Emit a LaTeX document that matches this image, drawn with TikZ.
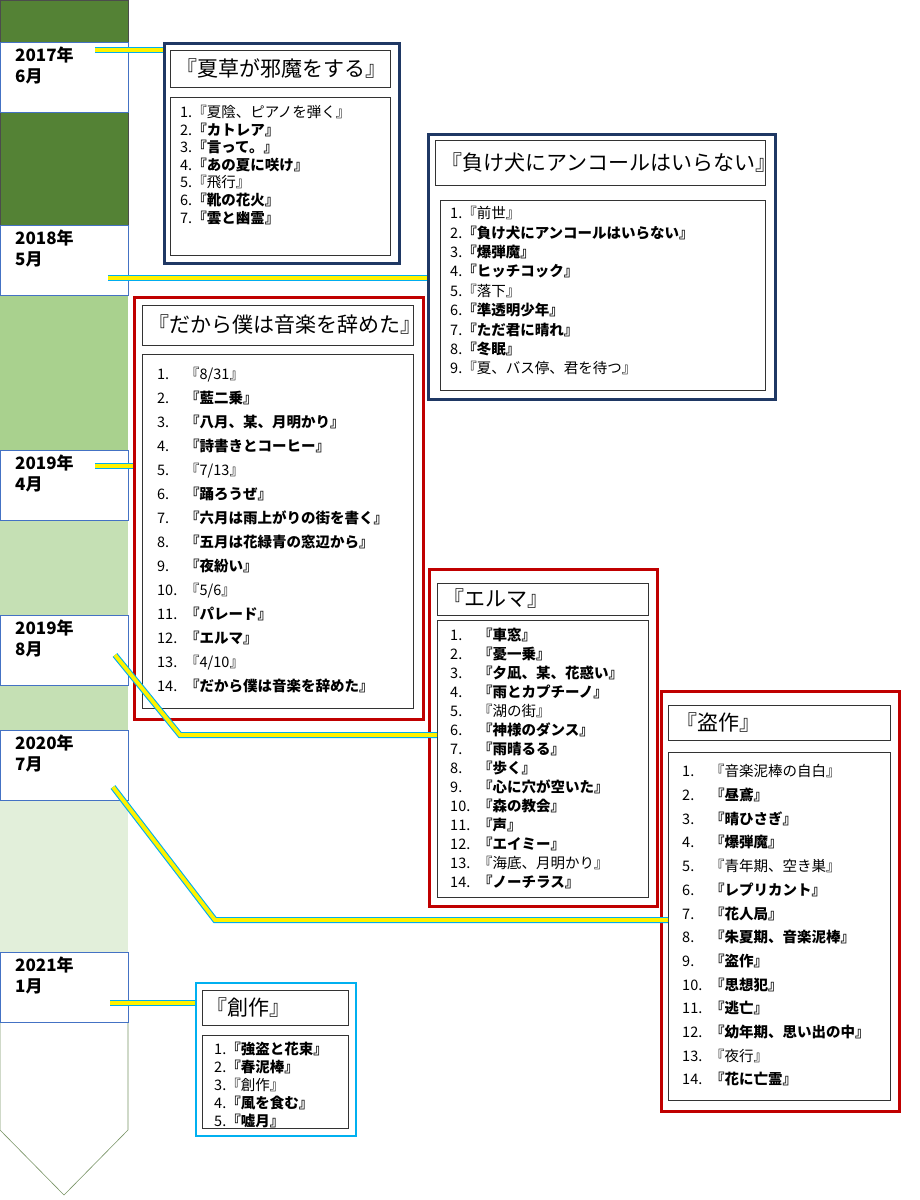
\documentclass[tikz,border=0pt]{standalone}
\usepackage{fontspec}
\newfontfamily\jp{Noto Sans CJK JP}
\usetikzlibrary{positioning}
\definecolor{dkgreen}{HTML}{548235}
\definecolor{mdgreen}{HTML}{A9D18E}
\definecolor{ltgreen}{HTML}{C5E0B4}
\definecolor{pgreen}{HTML}{E2EFDA}
\definecolor{navy}{HTML}{1F3864}
\definecolor{dkred}{HTML}{C00000}
\definecolor{selblue}{HTML}{4472C4}
\definecolor{skyblue}{HTML}{00B0F0}

\tikzset{
  date/.style = {draw=selblue, fill=white, line width=0.8pt, anchor=north west,
    minimum width=128pt, minimum height=70pt, inner sep=0pt},
  datetxt/.style = {anchor=north west, font=\jp\bfseries\fontsize{17}{21}\selectfont,
    align=left, inner sep=0pt},
  frame/.style = {draw=#1, line width=3pt, fill=white, anchor=north west, inner sep=0pt},
  inbox/.style = {draw=black!80, line width=0.8pt, anchor=north west, inner sep=0pt},
  title/.style = {anchor=west, font=\jp\fontsize{21}{23}\selectfont, inner sep=0pt},
  tracks/.style = {anchor=north west, inner sep=0pt, align=left,
    font=\jp\fontsize{14.5}{#1}\selectfont},
  link/.style = {draw=cyan, line width=6pt, postaction={draw=yellow, line width=3.8pt}},
  sep/.style = {draw=selblue, line width=0.6pt, double, double distance=1.2pt}
}
\newcommand{\trk}[2]{#1 & #2\\}

\begin{document}
\begin{tikzpicture}[x=1pt, y=-1pt]
\useasboundingbox (0,0) rectangle (920,1200);

% timeline bar
\fill[dkgreen] (0,0) rectangle (128,225);
\fill[mdgreen] (0,225) rectangle (128,450);
\fill[ltgreen] (0,450) rectangle (128,730);
\fill[pgreen] (0,730) rectangle (128,1022);
\draw[draw=black!70, line width=0.6pt] (0,0) rectangle (128,225);
\draw[draw=mdgreen!70!black, line width=0.6pt] (0,1022) -- (0,1130) -- (64,1195) -- (128,1130) -- (128,1022);

\node[date] (d17) at (0,42) {};
\node[date] (d18) at (0,225) {};
\node[date] (d19a) at (0,450) {};
\node[date] (d19b) at (0,615) {};
\node[date] (d20) at (0,730) {};
\node[date] (d21) at (0,952) {};
\node[datetxt] at (15,47) {2017年\\6月};
\node[datetxt] at (15,230) {2018年\\5月};
\node[datetxt] at (15,455) {2019年\\4月};
\node[datetxt] at (15,620) {2019年\\8月};
\node[datetxt] at (15,735) {2020年\\7月};
\node[datetxt] at (15,957) {2021年\\1月};

% album 1
\node[frame=navy, minimum width=235pt, minimum height=220pt] (a1) at (163,42) {};
\node[inbox, minimum width=220pt, minimum height=37pt] (a1t) at (170,50) {};
\node[title] at (176,68.5) {『夏草が邪魔をする』};
\draw[sep] (168,91) -- (393,91);
\node[inbox, minimum width=220pt, minimum height=158pt] (a1l) at (170,97) {};
\node[tracks=17.5] at (180,105) {\begin{tabular}{@{}l@{}l@{}}
\trk{1.}{『夏陰、ピアノを弾く』}
\trk{2.}{\textbf{『カトレア』}}
\trk{3.}{\textbf{『言って。』}}
\trk{4.}{\textbf{『あの夏に咲け』}}
\trk{5.}{『飛行』}
\trk{6.}{\textbf{『靴の花火』}}
\trk{7.}{\textbf{『雲と幽霊』}}
\end{tabular}};

% album 2
\node[frame=navy, minimum width=347pt, minimum height=265pt] (a2) at (427,133) {};
\node[inbox, minimum width=330pt, minimum height=45pt] (a2t) at (435,140) {};
\node[title] at (441,162.5) {『負け犬にアンコールはいらない』};
\draw[sep] (433,191) -- (768,191);
\node[inbox, minimum width=325pt, minimum height=190pt] (a2l) at (440,200) {};
\node[tracks=19.4] at (450,205) {\begin{tabular}{@{}l@{}l@{}}
\trk{1.}{『前世』}
\trk{2.}{\textbf{『負け犬にアンコールはいらない』}}
\trk{3.}{\textbf{『爆弾魔』}}
\trk{4.}{\textbf{『ヒッチコック』}}
\trk{5.}{『落下』}
\trk{6.}{\textbf{『準透明少年』}}
\trk{7.}{\textbf{『ただ君に晴れ』}}
\trk{8.}{\textbf{『冬眠』}}
\trk{9.}{『夏、バス停、君を待つ』}
\end{tabular}};

% album 3
\node[frame=dkred, minimum width=289pt, minimum height=422pt] (a3) at (133,296) {};
\node[inbox, minimum width=271pt, minimum height=40pt] (a3t) at (142,305) {};
\node[title] at (148,325) {『だから僕は音楽を辞めた』};
\draw[sep] (140,349) -- (415,349);
\node[inbox, minimum width=271pt, minimum height=354pt] (a3l) at (142,354) {};
\node[tracks=24] at (157,362) {\begin{tabular}{@{}p{28pt}@{}l@{}}
\trk{1.}{『8/31』}
\trk{2.}{\textbf{『藍二乗』}}
\trk{3.}{\textbf{『八月、某、月明かり』}}
\trk{4.}{\textbf{『詩書きとコーヒー』}}
\trk{5.}{『7/13』}
\trk{6.}{\textbf{『踊ろうぜ』}}
\trk{7.}{\textbf{『六月は雨上がりの街を書く』}}
\trk{8.}{\textbf{『五月は花緑青の窓辺から』}}
\trk{9.}{\textbf{『夜紛い』}}
\trk{10.}{『5/6』}
\trk{11.}{\textbf{『パレード』}}
\trk{12.}{\textbf{『エルマ』}}
\trk{13.}{『4/10』}
\trk{14.}{\textbf{『だから僕は音楽を辞めた』}}
\end{tabular}};

% album 4
\node[frame=dkred, minimum width=228pt, minimum height=337pt] (a4) at (428,568) {};
\node[inbox, minimum width=211pt, minimum height=32pt] (a4t) at (437,583) {};
\node[title] at (443,599) {『エルマ』};
\draw[sep] (437,617) -- (648,617);
\node[inbox, minimum width=211pt, minimum height=277pt] (a4l) at (437,620) {};
\node[tracks=19] at (450,627) {\begin{tabular}{@{}p{28pt}@{}l@{}}
\trk{1.}{\textbf{『車窓』}}
\trk{2.}{\textbf{『憂一乗』}}
\trk{3.}{\textbf{『夕凪、某、花惑い』}}
\trk{4.}{\textbf{『雨とカプチーノ』}}
\trk{5.}{『湖の街』}
\trk{6.}{\textbf{『神様のダンス』}}
\trk{7.}{\textbf{『雨晴るる』}}
\trk{8.}{\textbf{『歩く』}}
\trk{9.}{\textbf{『心に穴が空いた』}}
\trk{10.}{\textbf{『森の教会』}}
\trk{11.}{\textbf{『声』}}
\trk{12.}{\textbf{『エイミー』}}
\trk{13.}{『海底、月明かり』}
\trk{14.}{\textbf{『ノーチラス』}}
\end{tabular}};

% album 5
\node[frame=dkred, minimum width=238pt, minimum height=420pt] (a5) at (660,690) {};
\node[inbox, minimum width=222pt, minimum height=35pt] (a5t) at (668,705) {};
\node[title] at (676,722.5) {『盗作』};
\draw[sep] (666,747) -- (895,747);
\node[inbox, minimum width=222pt, minimum height=348pt] (a5l) at (668,752) {};
\node[tracks=23.7] at (682,760) {\begin{tabular}{@{}p{28pt}@{}l@{}}
\trk{1.}{『音楽泥棒の自白』}
\trk{2.}{\textbf{『昼鳶』}}
\trk{3.}{\textbf{『晴ひさぎ』}}
\trk{4.}{\textbf{『爆弾魔』}}
\trk{5.}{『青年期、空き巣』}
\trk{6.}{\textbf{『レプリカント』}}
\trk{7.}{\textbf{『花人局』}}
\trk{8.}{\textbf{『朱夏期、音楽泥棒』}}
\trk{9.}{\textbf{『盗作』}}
\trk{10.}{\textbf{『思想犯』}}
\trk{11.}{\textbf{『逃亡』}}
\trk{12.}{\textbf{『幼年期、思い出の中』}}
\trk{13.}{『夜行』}
\trk{14.}{\textbf{『花に亡霊』}}
\end{tabular}};

% album 6
\node[frame=skyblue, line width=1.5pt, minimum width=160pt, minimum height=153pt] (a6) at (195,982) {};
\node[inbox, minimum width=146pt, minimum height=35pt] (a6t) at (202,990) {};
\node[title] at (206,1007.5) {『創作』};
\draw[sep] (200,1030) -- (350,1030);
\node[inbox, minimum width=146pt, minimum height=93pt] (a6l) at (202,1035) {};
\node[tracks=18] at (214,1042) {\begin{tabular}{@{}l@{}l@{}}
\trk{1.}{\textbf{『強盗と花束』}}
\trk{2.}{\textbf{『春泥棒』}}
\trk{3.}{『創作』}
\trk{4.}{\textbf{『風を食む』}}
\trk{5.}{\textbf{『嘘月』}}
\end{tabular}};

% connectors
\coordinate (k17) at (95,50);
\coordinate (k18) at (108,278);
\coordinate (k19a) at (95,466);
\coordinate (k19b) at (115,655);
\coordinate (b19b) at (180,735);
\coordinate (k20) at (113,787);
\coordinate (b20) at (215,920);
\coordinate (k21) at (110,1003);
\path[link] (k17) -- (a1.north west |- k17);
\path[link] (k18) -- (a2.west |- k18);
\path[link] (k19a) -- (a3.west |- k19a);
\path[link] (k19b) -- (b19b) -- (a4l.west |- b19b);
\path[link] (k20) -- (b20) -- (a5l.west |- b20);
\path[link] (k21) -- (a6.west |- k21);
\end{tikzpicture}
\end{document}
